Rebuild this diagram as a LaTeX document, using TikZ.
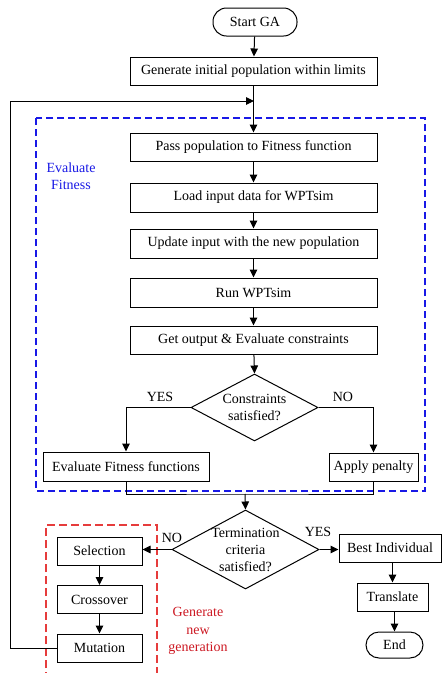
\documentclass[tikz,border=0pt]{standalone}
\usepackage{fontspec}
\setmainfont{Liberation Serif}
\usetikzlibrary{shapes.geometric,arrows.meta}
\definecolor{bluedash}{RGB}{25,25,230}
\definecolor{reddash}{RGB}{230,60,60}
\definecolor{redtext}{RGB}{205,25,35}
\begin{document}
\begin{tikzpicture}[x=1pt,y=-1pt,
 box/.style={draw,line width=1pt,minimum height=28pt,inner sep=0pt,font=\fontsize{14}{17}\selectfont},
 termbox/.style={box,rounded corners=13.5pt},
 dia/.style={draw,diamond,line width=1pt,inner sep=0pt},
 txt/.style={font=\fontsize{14}{17.5}\selectfont,align=center,inner sep=0pt},
 arr/.style={line width=1pt,-{Triangle[length=8pt,width=7.5pt]}},
 ln/.style={line width=1pt}]
\useasboundingbox (0,0) rectangle (442,673);
\fill[white] (0,0) rectangle (442,673);

% dashed group boxes
\draw[bluedash,line width=1.1pt,dash pattern=on 7pt off 4pt] (36,118) rectangle (425,491);
\draw[reddash,line width=1.2pt,dash pattern=on 8pt off 4pt] (46,680) -- (46,525) -- (157,525) -- (157,680);

\node[txt,text=bluedash] (evlab) at (71,176) {Evaluate\\Fitness};
\node[txt,text=redtext] (genlab) at (198,631) {Generate\\new\\generation};

% nodes
\node[termbox,minimum width=84pt] (start) at (255,22) {Start GA};
\node[box,minimum width=247pt] (gen) at (253.5,71) {Generate initial population within limits};
\node[box,minimum width=247pt] (pass) at (253.5,147) {Pass population to Fitness function};
\node[box,minimum width=247pt,minimum height=29pt] (load) at (253.5,197.5) {Load input data for WPTsim};
\node[box,minimum width=247pt,minimum height=29pt] (upd) at (253.5,243.5) {Update input with the new population};
\node[box,minimum width=247pt,minimum height=29pt] (run) at (253.5,292.5) {Run WPTsim};
\node[box,minimum width=247pt] (getout) at (253.5,340) {Get output \& Evaluate constraints};
\node[dia,minimum width=127pt,minimum height=67pt] (cons) at (254.5,407.5) {};
\node[txt] (constxt) at (cons) {Constraints\\satisfied?};
\node[box,minimum width=166pt,minimum height=29pt] (evalf) at (126,466.5) {Evaluate Fitness functions};
\node[box,minimum width=89pt] (pen) at (373.5,467) {Apply penalty};
\node[dia,minimum width=147pt,minimum height=79pt] (term) at (245.5,549.5) {};
\node[txt,font=\fontsize{14}{17}\selectfont] (termtxt) at (term) {Termination\\criteria\\satisfied?};
\node[box,minimum width=85pt] (sel) at (99.5,551) {Selection};
\node[box,minimum width=85pt] (cross) at (99.5,599.5) {Crossover};
\node[box,minimum width=85pt] (mut) at (99.5,648) {Mutation};
\node[box,minimum width=102pt] (best) at (390,548) {Best Individual};
\node[box,minimum width=71pt] (trans) at (392.5,597) {Translate};
\node[termbox,minimum width=57pt,minimum height=26pt,rounded corners=13pt] (end) at (394.5,645) {End};

% labels
\node[txt] (yes1) at (160,397) {YES};
\node[txt] (no1) at (343,397) {NO};
\node[txt] (no2) at (172,538) {NO};
\node[txt] (yes2) at (318,532) {YES};

% connectors
\coordinate (fb) at (254,101);
\coordinate (merge) at (245,494);
\draw[arr] (start) -- (gen);
\draw[arr] (gen) -- (pass);
\draw[arr] (pass) -- (load);
\draw[arr] (load) -- (upd);
\draw[arr] (upd) -- (run);
\draw[arr] (run) -- (getout);
\draw[arr] (getout) -- (cons.north);
\draw[arr] (cons.west) -| (evalf.north);
\draw[arr] (cons.east) -| (pen.north);
\draw[ln] (evalf.south) |- (merge) -| (pen.south);
\draw[arr] (merge) -- (term.north);
\draw[arr] (term.west) -- (term.west -| sel.east);
\draw[arr] (term.east) -- (term.east -| best.west);
\draw[arr] (sel) -- (cross);
\draw[arr] (cross) -- (mut);
\draw[arr] (best.south -| trans) -- (trans);
\draw[arr] (trans.south -| end) -- (end);
\draw[arr] (mut.west) -| (10,101) -- (fb);
\end{tikzpicture}
\end{document}
